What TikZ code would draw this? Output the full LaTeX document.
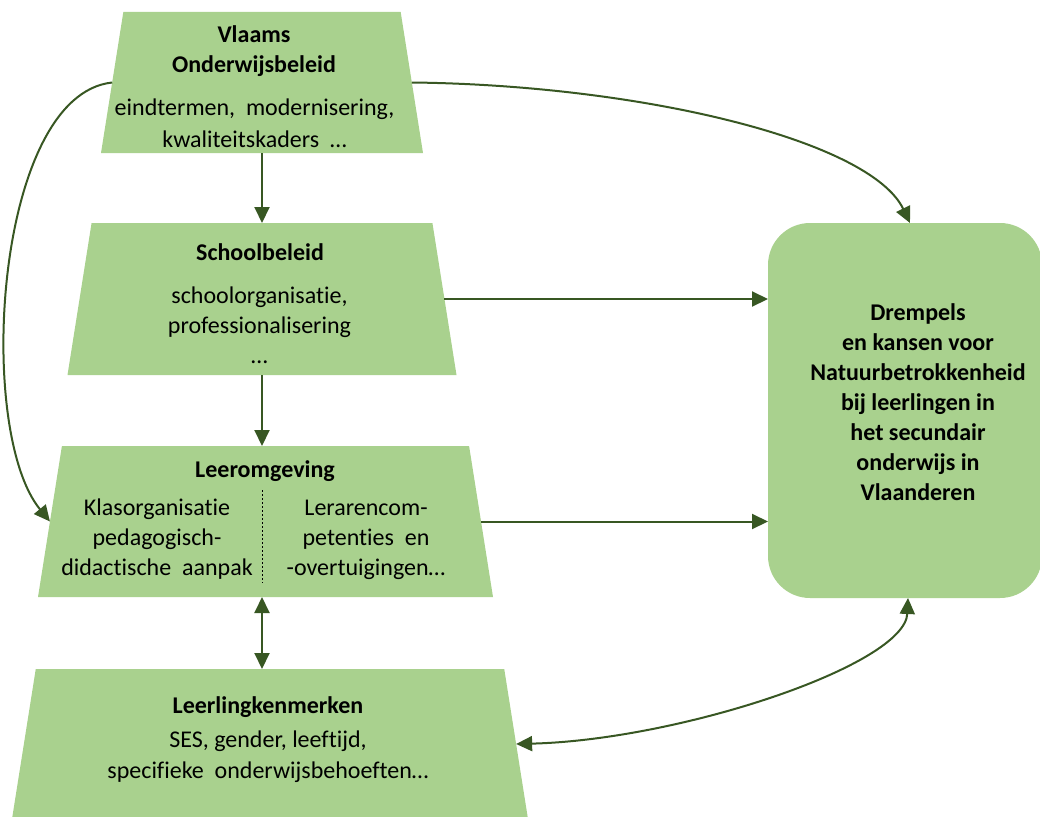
\documentclass[tikz,border=0pt]{standalone}
\usepackage{fontspec}
\setmainfont{Carlito}[Ligatures=NoCommon]
\usetikzlibrary{arrows.meta}
\definecolor{boxgreen}{HTML}{A9D18E}
\definecolor{linegreen}{HTML}{385723}
\tikzset{
  outcome/.style={rectangle, rounded corners=42pt, fill=boxgreen, draw=none,
    minimum width=274pt, minimum height=375pt, inner sep=0pt, outer sep=0pt},
  txt/.style={inner sep=0pt, outer sep=0pt, align=center, anchor=north,
    font=\fontsize{24}{30}\selectfont},
  head/.style={txt, font=\fontsize{24}{30}\selectfont\bfseries},
  divider/.style={draw=black, line width=0.8pt, dash pattern=on 2pt off 2pt},
  link/.style={draw=linegreen, line width=2pt, -{Triangle[length=16pt,width=15pt]}},
  twoway/.style={draw=linegreen, line width=2pt,
    {Triangle[length=16pt,width=15pt]}-{Triangle[length=16pt,width=15pt]}},
}
% trapezium filled in green, narrow side on top;
% #1 name, #2 centre x, #3 centre y, #4 half of the bottom width, #5 height
\newcommand\levelbox[5]{%
  \pgfmathsetmacro\lbOff{0.1584*#5}%
  \pgfmathsetmacro\lbH{#5/2}%
  \fill[boxgreen] ({#2-#4+\lbOff},{#3-\lbH}) -- ({#2+#4-\lbOff},{#3-\lbH})
     -- ({#2+#4},{#3+\lbH}) -- ({#2-#4},{#3+\lbH}) -- cycle;
  \coordinate (#1-n) at (#2,{#3-\lbH});
  \coordinate (#1-s) at (#2,{#3+\lbH});
  \coordinate (#1-e) at ({#2+#4-\lbOff/2},#3);
  \coordinate (#1-w) at ({#2-#4+\lbOff/2},#3);
}
\begin{document}
\begin{tikzpicture}[x=1pt,y=-1pt]
\useasboundingbox (0,0) rectangle (1040,816);

% policy levels
\levelbox{vob}{262}{82.5}{161}{141}
\levelbox{sb}{262}{299}{194.5}{152}
\levelbox{lo}{265.5}{521.5}{227.5}{151}
\levelbox{ll}{270}{744}{258}{150}

% outcome box
\node[outcome] (out) at (905,410.5) {};

% texts
\node[head] (vobT) at (254,21.5) {\strut Vlaams\\Onderwijsbeleid};
\node[txt]  (vobB) at (254.5,94) {\strut eindtermen, \ modernisering,\\[2pt]kwaliteitskaders \ …};

\node[head] (sbT) at (260,239) {\strut Schoolbeleid};
\node[txt]  (sbB) at (259.5,282) {\strut schoolorganisatie,\\professionalisering\\…};

\node[head] (loT) at (265,456) {\strut Leeromgeving};
\node[txt]  (loL) at (157,494) {\strut Klasorganisatie\\pedagogisch-\\didactische \ aanpak};
\node[txt]  (loR) at (366,494) {\strut Lerarencom-\\petenties \ en\\-overtuigingen…};
\draw[divider] (262,490) -- (262,583);

\node[head] (llT) at (268,692) {\strut Leerlingkenmerken};
\node[txt]  (llB) at (268,726) {\strut SES, gender, leeftijd,\\[1pt]specifieke \ onderwijsbehoeften…};

\node[head] (outT) at (918,299) {\strut Drempels\\en kansen voor\\Natuurbetrokkenheid\\bij leerlingen in\\het secundair\\onderwijs in\\Vlaanderen};

% connectors
\draw[link] (vob-s) -- (sb-n);
\draw[link] (sb-s) -- (sb-s |- lo-n);
\draw[twoway] (sb-s |- lo-s) -- (sb-s |- ll-n);
\draw[link] (sb-e) -- (sb-e -| out.west);
\draw[link] (lo-e) -- (lo-e -| out.west);
\draw[link] (vob-e) .. controls (640,85) and (870,140) .. ([xshift=5pt]out.north);
\draw[link] (vob-w) .. controls (-5,95) and (-25,430) .. (lo-w);
\draw[twoway] (ll-e) .. controls (680,740) and (905,665) .. ([xshift=3pt]out.south);
\end{tikzpicture}
\end{document}
